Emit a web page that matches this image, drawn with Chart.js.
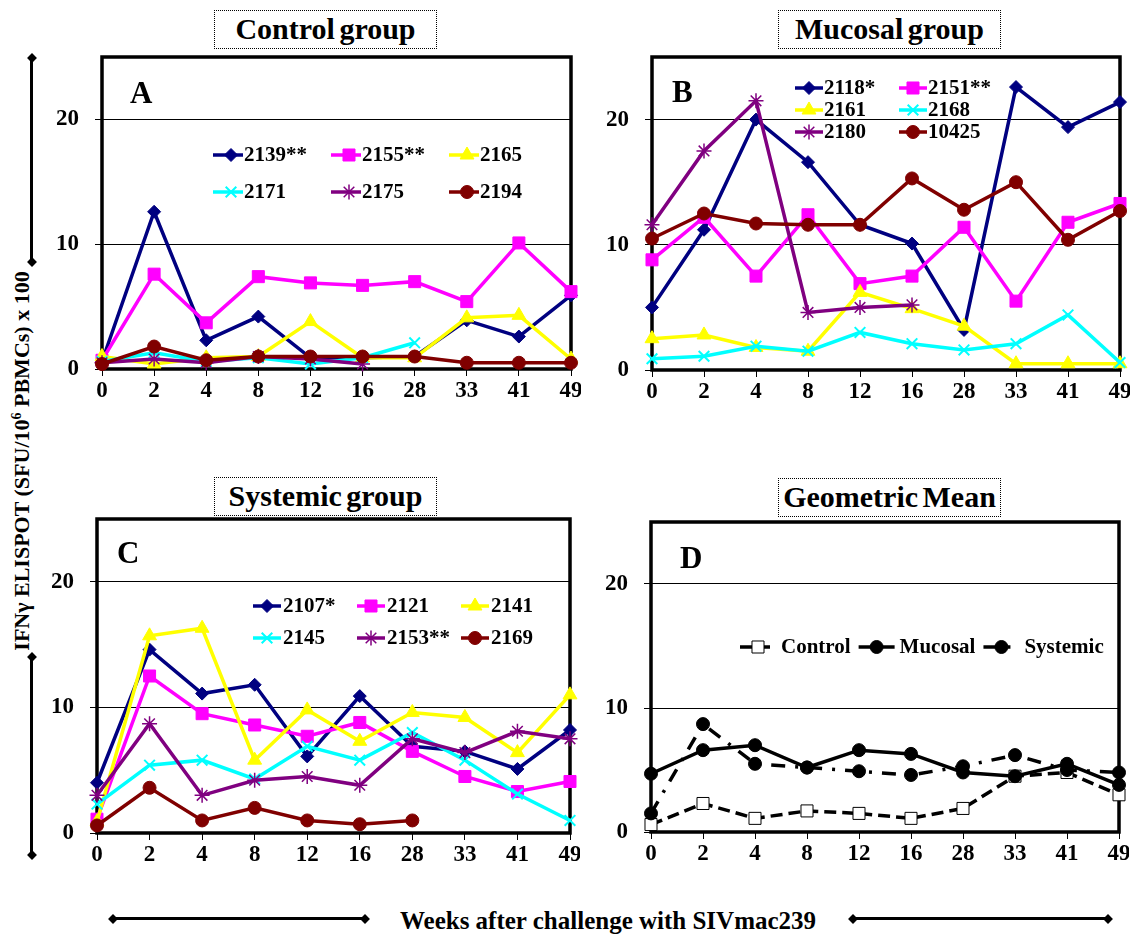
<!DOCTYPE html>
<html>
<head>
<meta charset="utf-8">
<script src="https://cdn.jsdelivr.net/npm/chart.js@4.4.0/dist/chart.umd.min.js"></script>
<style>
  body { margin: 0; background: #fff; }
  #wrap { position: relative; width: 1138px; height: 940px; background: #fff; overflow: hidden;
          font-family: "Liberation Serif", "Times New Roman", serif; font-weight: bold; color: #000; }
  canvas { position: absolute; }
  .ttl { position: absolute; border: 1px dotted #000; text-align: center; font-size: 30px;
         word-spacing: -3px; line-height: 36px; height: 37px; width: 221px; }
  .ytitle { position: absolute; left: 22px; top: 461px; font-size: 22px; white-space: nowrap;
            transform: translate(-50%, -50%) rotate(-90deg); }
  .xtitle { position: absolute; left: 608px; top: 921px; font-size: 25px; white-space: nowrap;
            transform: translate(-50%, -50%); }
  .hl { position: absolute; height: 3px; background: #000; }
  .vl { position: absolute; width: 3px; background: #000; }
  .dm { position: absolute; width: 7px; height: 7px; background: #000; transform: translate(-50%, -50%) rotate(45deg); }
</style>
</head>
<body>
<div id="wrap">
  <div class="ttl" style="left:214px; top:10px;">Control group</div>
  <div class="ttl" style="left:778px; top:10px;">Mucosal group</div>
  <div class="ttl" style="left:214px; top:477px;">Systemic group</div>
  <div class="ttl" style="left:778px; top:478px;">Geometric Mean</div>

  <div class="ytitle">IFNγ ELISPOT (SFU/10<sup style="font-size:14px">6</sup> PBMCs) x 100</div>
  <div class="vl" style="left:30px; top:58px; height:204px;"></div>
  <div class="dm" style="left:31.5px; top:58px;"></div>
  <div class="dm" style="left:31.5px; top:262px;"></div>
  <div class="vl" style="left:30px; top:657px; height:198px;"></div>
  <div class="dm" style="left:31.5px; top:657px;"></div>
  <div class="dm" style="left:31.5px; top:855px;"></div>

  <div class="xtitle">Weeks after challenge with SIVmac239</div>
  <div class="hl" style="left:113px; top:917px; width:252px;"></div>
  <div class="dm" style="left:113px; top:918.5px;"></div>
  <div class="dm" style="left:365px; top:918.5px;"></div>
  <div class="hl" style="left:853px; top:917px; width:255px;"></div>
  <div class="dm" style="left:853px; top:918.5px;"></div>
  <div class="dm" style="left:1108px; top:918.5px;"></div>

  <canvas id="chartA" width="574" height="356" style="left:7px; top:47px;"></canvas>
  <canvas id="chartB" width="573" height="357" style="left:557px; top:47px;"></canvas>
  <canvas id="chartC" width="578" height="358" style="left:2px; top:509px;"></canvas>
  <canvas id="chartD" width="573" height="354" style="left:556px; top:512px;"></canvas>
</div>

<script>
// weeks after challenge
var weeks = ['0', '2', '4', '8', '12', '16', '28', '33', '41', '49'];
var yTicks = [0, 10, 20];

// A - control group
var namesA = ['2139**', '2155**', '2165', '2171', '2175', '2194'];
var a2139 = [0.6, 12.6, 2.3, 4.2, 0.9, 0.9, 1.0, 3.9, 2.6, 5.9];
var a2155 = [0.7, 7.6, 3.7, 7.4, 6.9, 6.7, 7.0, 5.4, 10.1, 6.2];
var a2165 = [1.0, 0.4, 0.9, 1.0, 3.8, 0.9, 0.9, 4.1, 4.3, 0.8];
var a2171 = [0.6, 1.3, 0.6, 0.9, 0.4, 0.9, 2.1, null, null, null];
var a2175 = [0.5, 0.8, 0.5, 1.0, 0.8, 0.4, null, null, null, null];
var a2194 = [0.4, 1.8, 0.7, 1.0, 1.0, 1.0, 1.0, 0.5, 0.5, 0.5];

// B - mucosal group
var namesB = ['2118*', '2151**', '2161', '2168', '2180', '10425'];
var b2118 = [5.0, 11.2, 20.0, 16.6, 11.6, 10.1, 3.2, 22.6, 19.4, 21.4];
var b2151 = [8.8, 12.2, 7.5, 12.4, 6.9, 7.5, 11.4, 5.5, 11.8, 13.3];
var b2161 = [2.5, 2.8, 1.8, 1.5, 6.2, 4.9, 3.5, 0.5, 0.5, 0.5];
var b2168 = [0.9, 1.1, 1.9, 1.5, 3.0, 2.1, 1.6, 2.1, 4.4, 0.6];
var b2180 = [11.6, 17.5, 21.5, 4.6, 5.0, 5.2, null, null, null, null];
var b10425 = [10.5, 12.5, 11.7, 11.6, 11.6, 15.3, 12.8, 15.0, 10.4, 12.7];

// C - systemic group
var namesC = ['2107*', '2121', '2141', '2145', '2153**', '2169'];
var c2107 = [4.0, 14.6, 11.1, 11.8, 6.1, 10.9, 6.9, 6.5, 5.1, 8.2];
var c2121 = [1.1, 12.5, 9.5, 8.6, 7.7, 8.8, 6.5, 4.5, 3.3, 4.1];
var c2141 = [0.9, 15.7, 16.3, 5.8, 9.8, 7.3, 9.6, 9.2, 6.4, 11.0];
var c2145 = [2.3, 5.4, 5.8, 4.3, 6.9, 5.8, 8.0, 5.8, 3.1, 1.0];
var c2153 = [3.0, 8.7, 3.0, 4.2, 4.5, 3.8, 7.5, 6.4, 8.1, 7.5];
var c2169 = [0.6, 3.6, 1.0, 2.0, 1.0, 0.7, 1.0, null, null, null];

// D - geometric mean
var namesD = ['Control', 'Mucosal', 'Systemic'];
var dControl = [0.6, 2.3, 1.1, 1.7, 1.5, 1.1, 1.9, 4.5, 4.8, 3.0];
var dMucosal = [4.7, 6.6, 7.0, 5.2, 6.6, 6.3, 4.8, 4.5, 5.5, 3.8];
var dSystemic = [1.5, 8.7, 5.5, 5.2, 4.9, 4.6, 5.3, 6.2, 5.0, 4.8];

var FONT = '"Liberation Serif", "Times New Roman", serif';

// marker styles used by the six animals in every group
var looks = [
  { c: '#000080', ps: 'rectRot', r: 6.5, bw: 1 },
  { c: '#FF00FF', ps: 'rect', r: 8.5, bw: 1 },
  { c: '#FFFF00', ps: 'triangle', r: 8, bw: 1 },
  { c: '#00FFFF', ps: 'crossRot', r: 7.5, bw: 2 },
  { c: '#800080', ps: 'star', r: 7.5, bw: 1.5 },
  { c: '#800000', ps: 'circle', r: 6.5, bw: 1 }
];

function animalSets(names, series) {
  return series.map(function (vals, i) {
    var lk = looks[i];
    return {
      label: names[i], data: vals,
      borderColor: lk.c, backgroundColor: lk.c, borderWidth: 3.5,
      pointStyle: lk.ps, pointRadius: lk.r, pointBorderWidth: lk.bw,
      pointBackgroundColor: lk.c, pointBorderColor: lk.c,
      tension: 0, clip: false, spanGaps: false, order: -i
    };
  });
}

var panelDecor = {
  id: 'panelDecor',
  beforeDatasetsDraw: function (chart, args, o) {
    var a = chart.chartArea, ctx = chart.ctx;
    ctx.save();
    ctx.lineWidth = 3.5;
    ctx.strokeStyle = '#000';
    ctx.strokeRect(a.left, a.top, a.right - a.left, a.bottom - a.top);
    ctx.fillStyle = '#000';
    ctx.font = 'bold 31px ' + FONT;
    ctx.textBaseline = 'alphabetic';
    ctx.fillText(o.letter, a.left + o.letterX, a.top + o.letterY);
    ctx.restore();
  },
  afterDatasetsDraw: function (chart, args, o) {
    var a = chart.chartArea, ctx = chart.ctx;
    var fx = a.left + o.x;
    ctx.save();
    ctx.font = 'bold 21px ' + FONT;
    ctx.textBaseline = 'middle';
    chart.data.datasets.forEach(function (ds, i) {
      var x, y;
      if (o.flow) {
        x = fx; y = a.top + o.y;
      } else {
        x = a.left + o.x + (i % o.cols) * o.colW;
        y = a.top + o.y + Math.floor(i / o.cols) * o.rowH;
      }
      ctx.strokeStyle = ds.borderColor;
      ctx.lineWidth = ds.borderWidth;
      ctx.setLineDash(ds.borderDash || []);
      ctx.beginPath();
      ctx.moveTo(x, y);
      ctx.lineTo(x + o.lineLen, y);
      ctx.stroke();
      ctx.setLineDash([]);
      ctx.fillStyle = ds.pointBackgroundColor;
      ctx.strokeStyle = ds.pointBorderColor;
      ctx.lineWidth = ds.pointBorderWidth;
      Chart.helpers.drawPoint(ctx, { pointStyle: ds.pointStyle, radius: ds.pointRadius,
        borderWidth: ds.pointBorderWidth, rotation: 0 }, x + o.markAt, y);
      ctx.fillStyle = '#000';
      ctx.fillText(ds.label, x + o.textAt, y + 1);
      if (o.flow) fx = x + o.textAt + ctx.measureText(ds.label).width + o.gap;
    });
    ctx.restore();
  }
};

function noPad(s) {
  s.paddingTop = 0; s.paddingBottom = 0; s.paddingLeft = 0; s.paddingRight = 0;
}

function makePanel(id, datasets, deco) {
  var tickFont = { family: FONT, size: 23, weight: 'bold' };
  return new Chart(document.getElementById(id), {
    type: 'line',
    data: { labels: weeks, datasets: datasets },
    options: {
      responsive: false, animation: false,
      layout: { padding: { left: 0, top: 10, right: 10, bottom: 0 } },
      plugins: { legend: { display: false }, tooltip: { enabled: false }, panelDecor: deco },
      scales: {
        x: {
          type: 'category', offset: false,
          grid: { drawOnChartArea: false, drawTicks: true, tickLength: 7, color: '#000', lineWidth: 1 },
          border: { display: false },
          ticks: { color: '#000', font: tickFont, padding: 1, maxRotation: 0, autoSkip: false },
          afterFit: function (s) { s.height = 34; noPad(s); }
        },
        y: {
          min: 0, max: 25,
          afterBuildTicks: function (s) { s.ticks = yTicks.map(function (v) { return { value: v }; }); },
          grid: { color: '#000', lineWidth: 1, tickLength: 7 },
          border: { display: false },
          ticks: { color: '#000', font: tickFont, padding: 16 },
          afterFit: function (s) { s.width = 95; noPad(s); }
        }
      }
    },
    plugins: [panelDecor]
  });
}

makePanel('chartA', animalSets(namesA, [a2139, a2155, a2165, a2171, a2175, a2194]),
  { letter: 'A', letterX: 28, letterY: 46, x: 111, y: 98, cols: 3, colW: 118, rowH: 37,
    lineLen: 30, markAt: 18, textAt: 31 });

makePanel('chartB', animalSets(namesB, [b2118, b2151, b2161, b2168, b2180, b10425]),
  { letter: 'B', letterX: 20, letterY: 45, x: 143, y: 31, cols: 2, colW: 104, rowH: 22,
    lineLen: 28, markAt: 14, textAt: 29 });

makePanel('chartC', animalSets(namesC, [c2107, c2121, c2141, c2145, c2153, c2169]),
  { letter: 'C', letterX: 20, letterY: 44, x: 156, y: 87, cols: 3, colW: 104, rowH: 32,
    lineLen: 28, markAt: 14, textAt: 30 });

var meanSets = [
  { label: namesD[0], data: dControl, borderColor: '#000', borderWidth: 3.5, borderDash: [12, 6],
    pointStyle: 'rect', pointRadius: 8.5, pointBorderWidth: 1,
    pointBackgroundColor: '#fff', pointBorderColor: '#000', clip: false, order: 0 },
  { label: namesD[1], data: dMucosal, borderColor: '#000', borderWidth: 3.5,
    pointStyle: 'circle', pointRadius: 6.5, pointBorderWidth: 1,
    pointBackgroundColor: '#000', pointBorderColor: '#000', clip: false, order: -1 },
  { label: namesD[2], data: dSystemic, borderColor: '#000', borderWidth: 3.5, borderDash: [14, 10, 3, 10],
    pointStyle: 'circle', pointRadius: 6.5, pointBorderWidth: 1,
    pointBackgroundColor: '#000', pointBorderColor: '#000', clip: false, order: -2 }
];

makePanel('chartD', meanSets,
  { letter: 'D', letterX: 29, letterY: 46, x: 89, y: 125, flow: true, gap: 8,
    lineLen: 36, markAt: 18, textAt: 41 });
</script>
</body>
</html>
